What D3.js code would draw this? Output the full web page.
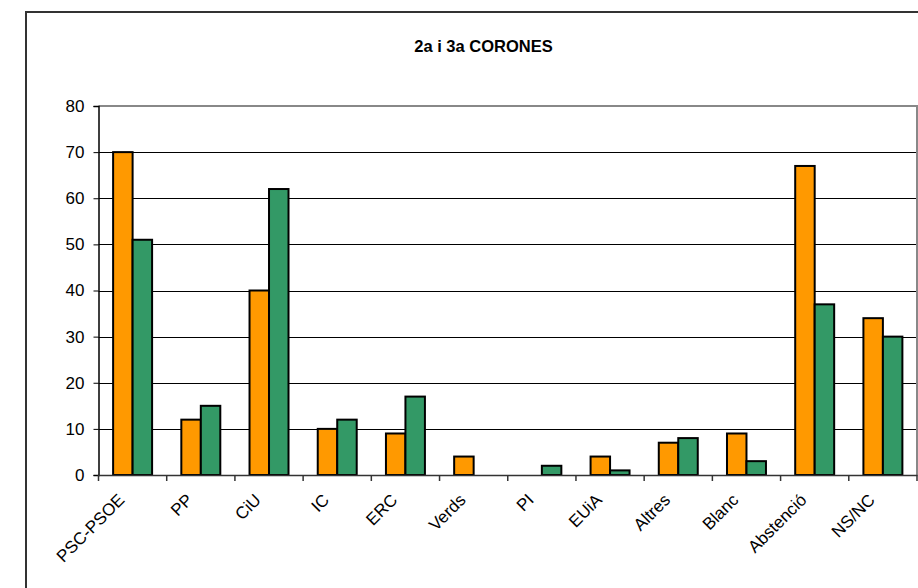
<!DOCTYPE html>
<html><head><meta charset="utf-8">
<script src="https://cdn.jsdelivr.net/npm/d3@7"></script>
<style>body{margin:0;background:#fff}svg{display:block}text{font-family:"Liberation Sans",Arial,sans-serif}</style>
</head><body>
<svg id="c" width="918" height="588"></svg>
<script>
const categories = ["PSC-PSOE","PP","CiU","IC","ERC","Verds","PI","EUiA","Altres","Blanc","Abstenció","NS/NC"];
const series = ["2a corona","3a corona"];
const values2a = [70,12,40,10,9,4,0,4,7,9,67,34];
const values3a = [51,15,62,12,17,0,2,1,8,3,37,30];
const yTicks = [0,10,20,30,40,50,60,70,80];
const colors = ["#FF9900","#339966"];
const title = "2a i 3a CORONES";

const svg = d3.select("#c");
const L = 98.5, R = 917, T = 106, B = 475;

// outer chart border
svg.append("rect").attr("x",26).attr("y",12).attr("width",960).attr("height",640)
  .attr("fill","none").attr("stroke","#333").attr("stroke-width",2);

svg.append("text").attr("x",483.5).attr("y",52).attr("text-anchor","middle")
  .attr("font-size",16.5).attr("font-weight","bold").text(title);

const x = d3.scaleBand().domain(categories).range([L,R]).padding(0);
const x1 = d3.scaleBand().domain(series).range([0,x.bandwidth()]).paddingInner(0).paddingOuter(0.75);
const y = d3.scaleLinear().domain([0,80]).range([B,T]);

// gridlines
svg.append("g").selectAll("line").data(yTicks.filter(v=>v>0 && v<80)).join("line")
  .attr("x1",L).attr("x2",R).attr("y1",d=>Math.round(y(d))+0.5).attr("y2",d=>Math.round(y(d))+0.5)
  .attr("stroke","#000").attr("stroke-width",1);
// plot border top/right
svg.append("path").attr("d",`M${L},${T}H${R}V${B}`).attr("fill","none").attr("stroke","#888").attr("stroke-width",2);

// bars
const data = categories.map((c,i)=>({c, v:[values2a[i],values3a[i]]}));
const g = svg.append("g").selectAll("g").data(data).join("g").attr("transform",d=>`translate(${x(d.c)},0)`);
g.selectAll("rect").data(d=>d.v.map((v,j)=>({s:series[j],v,j}))).join("rect")
  .attr("x",d=>x1(d.s)).attr("width",x1.bandwidth())
  .attr("y",d=>y(d.v)).attr("height",d=>B-y(d.v))
  .attr("fill",d=>colors[d.j]).attr("stroke","#000").attr("stroke-width",2)
  .attr("display",d=>d.v>0?null:"none");

// y axis
const ya = svg.append("g").attr("transform",`translate(${L},0)`)
  .call(d3.axisLeft(y).tickValues(yTicks).tickSize(5).tickPadding(9).tickFormat(d3.format("d")));
ya.select(".domain").attr("stroke","#000").attr("stroke-width",1.5);
ya.selectAll(".tick line").attr("stroke","#000");
ya.selectAll("text").attr("font-size",17).attr("fill","#000").attr("font-family",'"Liberation Sans",Arial,sans-serif');

// x axis
const xa = svg.append("g").attr("transform",`translate(0,${B})`)
  .call(d3.axisBottom(x).tickSize(0).tickFormat(""));
xa.select(".domain").attr("stroke","#333").attr("stroke-width",1.5);
xa.selectAll(".tick").remove();
svg.append("g").selectAll("line").data(categories.map(c=>x(c)).concat([R])).join("line")
  .attr("x1",d=>d).attr("x2",d=>d).attr("y1",B).attr("y2",B+6).attr("stroke","#333").attr("stroke-width",1.5);

svg.append("g").selectAll("text").data(categories).join("text")
  .attr("transform",d=>`translate(${x(d)+x.bandwidth()/2-7},${501}) rotate(-45)`)
  .attr("text-anchor","end").attr("font-size",17).text(d=>d);
</script>
</body></html>
